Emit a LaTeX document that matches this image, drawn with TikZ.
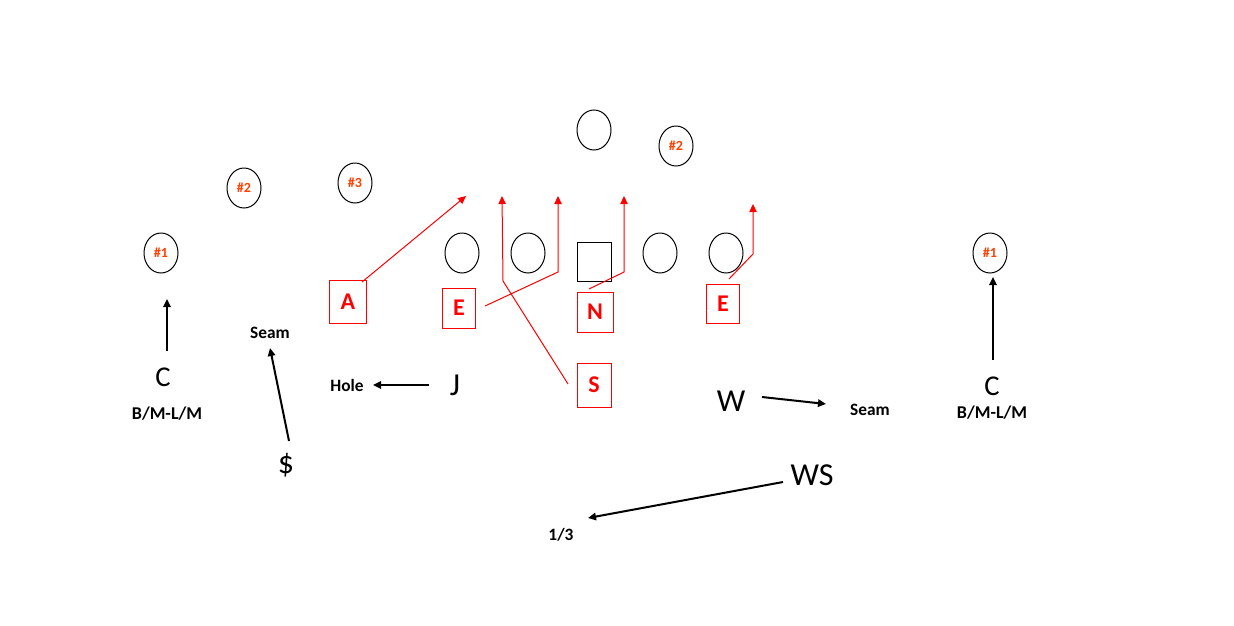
\documentclass[tikz,border=0pt]{standalone}
\usepackage{fontspec}
\setmainfont{Carlito}
\usetikzlibrary{arrows.meta,shapes.geometric}
\definecolor{offred}{RGB}{255,64,0}
\definecolor{defred}{RGB}{255,0,0}
\tikzset{
  offp/.style={draw=black, line width=0.75pt, ellipse, minimum width=25.5pt, minimum height=30pt, inner sep=0pt,
    text=offred, font=\bfseries\fontsize{10.5}{12}\selectfont},
  ctr/.style={draw=black, line width=0.75pt, rectangle, minimum width=25.5pt, minimum height=29pt, inner sep=0pt},
  defbox/.style={draw=defred, line width=0.75pt, rectangle, minimum width=25.5pt, minimum height=30pt, inner sep=0pt,
    text=defred, font=\bfseries\fontsize{18}{20}\selectfont},
  bigl/.style={inner sep=0pt, font=\fontsize{21.5}{24}\selectfont},
  bigw/.style={inner sep=0pt, font=\fontsize{24}{28}\selectfont},
  zone/.style={inner sep=0pt, font=\bfseries\fontsize{13}{15}\selectfont},
  zonec/.style={inner sep=0pt, font=\bfseries\fontsize{13.5}{15}\selectfont},
  blkarrow/.style={draw=black, line width=1.5pt, -{Triangle[length=6pt,width=5.5pt]}},
  redarrow/.style={draw=defred, line width=0.75pt, -{Triangle[length=6pt,width=5.5pt]}},
}
\begin{document}
\begin{tikzpicture}[x=0.75pt,y=-0.75pt]
\useasboundingbox (0,0) rectangle (1234,625);

% offense
\node[offp] (o1l) at (161,253) {\#1};
\node[offp] (o2l) at (244,188) {\#2};
\node[offp] (o3l) at (355,183) {\#3};
\node[offp] (lt) at (462,253) {};
\node[offp] (lg) at (528,253) {};
\node[ctr] (cn) at (594,262) {};
\node[offp] (rg) at (660,253) {};
\node[offp] (rt) at (726,253) {};
\node[offp] (qb) at (594,130) {};
\node[offp] (o2r) at (676,146) {\#2};
\node[offp] (o1r) at (990,253) {\#1};

% defensive front
\node[defbox, minimum width=27.75pt, minimum height=32pt] (A) at (348,302) {A};
\node[defbox, minimum width=24.75pt] (EL) at (459,308) {E};
\node[defbox, minimum width=27pt] (N) at (595,312) {N};
\node[defbox, minimum height=33pt] (S) at (594,385) {S};
\node[defbox, minimum width=24.75pt, minimum height=29.5pt] (ER) at (723,304) {E};

% rush lanes
\coordinate (As) at (362,282);
\coordinate (Ae) at (466,196);
\draw[redarrow] (As) -- (Ae);
\coordinate (Ss) at (568,384);
\coordinate (Sb) at (503,281);
\coordinate (Se) at (502,196);
\draw[redarrow] (Ss) -- (Sb) -- (Se);
\coordinate (ELs) at (485,306);
\coordinate (ELb) at (558,272);
\coordinate (ELe) at (558,196);
\draw[redarrow] (ELs) -- (ELb) -- (ELe);
\coordinate (Ns) at (589,289);
\coordinate (Nb) at (624,272);
\coordinate (Ne) at (624,196);
\draw[redarrow] (Ns) -- (Nb) -- (Ne);
\coordinate (ERs) at (729,279);
\coordinate (ERb) at (753,254);
\coordinate (ERe) at (753,204);
\draw[redarrow] (ERs) -- (ERb) -- (ERe);

% coverage players
\node[bigl] (CL) at (163,377) {C};
\node[zonec] (CLz) at (167,414) {B/M-L/M};
\node[zone] (seamL) at (270,333) {Seam};
\node[bigw] (dol) at (286,465) {\$};
\node[zone] (hole) at (347,385) {Hole};
\node[bigw] (J) at (455,385) {J};
\node[bigw] (W) at (731,401) {W};
\node[zone] (seamR) at (870,410) {Seam};
\node[bigw] (WS) at (812,475) {WS};
\node[zone] (third) at (561,535) {1/3};
\node[bigl] (CR) at (992,386) {C};
\node[zonec] (CRz) at (992,413) {B/M-L/M};

% coverage arrows
\coordinate (CLs) at (167,351);
\coordinate (CLe) at (167,299);
\draw[blkarrow] (CLs) -- (CLe);
\coordinate (dols) at (289,441);
\coordinate (dole) at (270,348);
\draw[blkarrow] (dols) -- (dole);
\coordinate (Js) at (429,385);
\coordinate (Je) at (373,385);
\draw[blkarrow] (Js) -- (Je);
\coordinate (Ws) at (762,397);
\coordinate (We) at (826,404);
\draw[blkarrow] (Ws) -- (We);
\coordinate (WSs) at (783,482);
\coordinate (WSe) at (588,518);
\draw[blkarrow] (WSs) -- (WSe);
\coordinate (CRs) at (993,360);
\coordinate (CRe) at (993,277);
\draw[blkarrow] (CRs) -- (CRe);
\end{tikzpicture}
\end{document}
